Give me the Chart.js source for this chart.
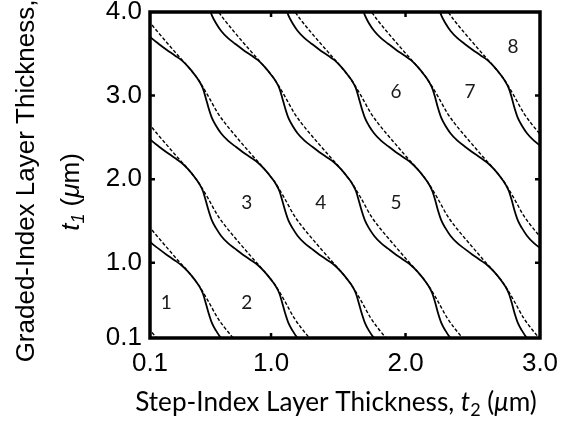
<!DOCTYPE html>
<html>
<head>
<meta charset="utf-8">
<script src="https://cdn.jsdelivr.net/npm/chart.js@4.4.1/dist/chart.umd.min.js"></script>
<style>
  body { margin: 0; background: #fff; }
  #myChart { display: block; }
</style>
</head>
<body>
<canvas id="myChart" width="570" height="423"></canvas>
<script>
const xTicks = [0.1, 1.0, 2.0, 3.0];
const yTicks = [0.1, 1.0, 2.0, 3.0, 4.0];

const regionNames = ['1', '2', '3', '4', '5', '6', '7', '8'];
const regionT2 = [0.22, 0.82, 0.82, 1.37, 1.93, 1.93, 2.48, 2.80];
const regionT1 = [0.52, 0.52, 1.72, 1.72, 1.72, 3.04, 3.04, 3.58];

// points are [t2, t1]; solid = full calculation, dashed = approximation
const solid0 = [[-0.008,0.278],[0.022,0.188],[0.059,0.098],[0.111,0.008],[0.163,-0.058]];
const dashed0 = [[-0.038,0.547],[0.035,0.337],[0.089,0.218],[0.147,0.104],[0.223,-0.040]];

const solid1 = [[-0.008,1.504],[0.022,1.414],[0.059,1.324],[0.111,1.234],[0.163,1.169],[0.223,1.097],[0.282,1.031],[0.334,0.971],
  [0.383,0.894],[0.435,0.792],[0.468,0.714],[0.494,0.630],[0.516,0.511],[0.535,0.403],[0.561,0.278],[0.591,0.188],[0.628,0.098],[0.680,0.008]];
const dashed1 = [[-0.038,1.773],[0.035,1.563],[0.089,1.444],[0.147,1.330],[0.223,1.187],[0.297,1.049],
  [0.383,0.894],[0.457,0.744],[0.531,0.547],[0.604,0.337],[0.658,0.218],[0.716,0.104],[0.791,-0.040]];

const solid2 = [[-0.008,2.730],[0.022,2.640],[0.059,2.550],[0.111,2.461],[0.163,2.395],[0.223,2.323],[0.282,2.257],[0.334,2.197],
  [0.383,2.120],[0.435,2.018],[0.468,1.940],[0.494,1.856],[0.516,1.737],[0.535,1.629],[0.561,1.504],[0.591,1.414],[0.628,1.324],
  [0.680,1.234],[0.732,1.169],[0.791,1.097],[0.851,1.031],[0.903,0.971],
  [0.951,0.894],[1.003,0.792],[1.037,0.714],[1.063,0.630],[1.085,0.511],[1.104,0.403],[1.130,0.278],[1.160,0.188],[1.197,0.098],[1.249,0.008]];
const dashed2 = [[-0.038,2.999],[0.035,2.790],[0.089,2.670],[0.147,2.556],[0.223,2.413],[0.297,2.275],
  [0.383,2.120],[0.457,1.970],[0.531,1.773],[0.604,1.563],[0.658,1.444],[0.716,1.330],[0.791,1.187],[0.866,1.049],
  [0.951,0.894],[1.026,0.744],[1.100,0.547],[1.173,0.337],[1.226,0.218],[1.284,0.104],[1.360,-0.040]];

const solid3 = [[-0.008,3.956],[0.022,3.866],[0.059,3.776],[0.111,3.687],[0.163,3.621],[0.223,3.549],[0.282,3.483],[0.334,3.424],
  [0.383,3.346],[0.435,3.244],[0.468,3.166],[0.494,3.083],[0.516,2.963],[0.535,2.855],[0.561,2.730],[0.591,2.640],[0.628,2.550],
  [0.680,2.461],[0.732,2.395],[0.791,2.323],[0.851,2.257],[0.903,2.197],
  [0.951,2.120],[1.003,2.018],[1.037,1.940],[1.063,1.856],[1.085,1.737],[1.104,1.629],[1.130,1.504],[1.160,1.414],[1.197,1.324],
  [1.249,1.234],[1.301,1.169],[1.360,1.097],[1.420,1.031],[1.472,0.971],
  [1.520,0.894],[1.572,0.792],[1.606,0.714],[1.632,0.630],[1.654,0.511],[1.673,0.403],[1.699,0.278],[1.728,0.188],[1.766,0.098],[1.818,0.008]];
const dashed3 = [[-0.038,4.225],[0.035,4.016],[0.089,3.896],[0.147,3.782],[0.223,3.639],[0.297,3.501],
  [0.383,3.346],[0.457,3.196],[0.531,2.999],[0.604,2.790],[0.658,2.670],[0.716,2.556],[0.791,2.413],[0.866,2.275],
  [0.951,2.120],[1.026,1.970],[1.100,1.773],[1.173,1.563],[1.226,1.444],[1.284,1.330],[1.360,1.187],[1.435,1.049],
  [1.520,0.894],[1.594,0.744],[1.669,0.547],[1.742,0.337],[1.795,0.218],[1.853,0.104],[1.929,-0.040]];

const solid4 = [[0.516,4.189],[0.535,4.081],[0.561,3.956],[0.591,3.866],[0.628,3.776],[0.680,3.687],[0.732,3.621],[0.791,3.549],[0.851,3.483],[0.903,3.424],
  [0.951,3.346],[1.003,3.244],[1.037,3.166],[1.063,3.083],[1.085,2.963],[1.104,2.855],[1.130,2.730],[1.160,2.640],[1.197,2.550],
  [1.249,2.461],[1.301,2.395],[1.360,2.323],[1.420,2.257],[1.472,2.197],
  [1.520,2.120],[1.572,2.018],[1.606,1.940],[1.632,1.856],[1.654,1.737],[1.673,1.629],[1.699,1.504],[1.728,1.414],[1.766,1.324],
  [1.818,1.234],[1.870,1.169],[1.929,1.097],[1.989,1.031],[2.041,0.971],
  [2.089,0.894],[2.141,0.792],[2.174,0.714],[2.200,0.630],[2.223,0.511],[2.241,0.403],[2.267,0.278],[2.297,0.188],[2.334,0.098],[2.386,0.008]];
const dashed4 = [[0.531,4.225],[0.604,4.016],[0.658,3.896],[0.716,3.782],[0.791,3.639],[0.866,3.501],
  [0.951,3.346],[1.026,3.196],[1.100,2.999],[1.173,2.790],[1.226,2.670],[1.284,2.556],[1.360,2.413],[1.435,2.275],
  [1.520,2.120],[1.594,1.970],[1.669,1.773],[1.742,1.563],[1.795,1.444],[1.853,1.330],[1.929,1.187],[2.003,1.049],
  [2.089,0.894],[2.163,0.744],[2.238,0.547],[2.311,0.337],[2.364,0.218],[2.422,0.104],[2.498,-0.040]];

const solid5 = [[1.085,4.189],[1.104,4.081],[1.130,3.956],[1.160,3.866],[1.197,3.776],[1.249,3.687],[1.301,3.621],[1.360,3.549],[1.420,3.483],[1.472,3.424],
  [1.520,3.346],[1.572,3.244],[1.606,3.166],[1.632,3.083],[1.654,2.963],[1.673,2.855],[1.699,2.730],[1.728,2.640],[1.766,2.550],
  [1.818,2.461],[1.870,2.395],[1.929,2.323],[1.989,2.257],[2.041,2.197],
  [2.089,2.120],[2.141,2.018],[2.174,1.940],[2.200,1.856],[2.223,1.737],[2.241,1.629],[2.267,1.504],[2.297,1.414],[2.334,1.324],
  [2.386,1.234],[2.438,1.169],[2.498,1.097],[2.557,1.031],[2.609,0.971],
  [2.658,0.894],[2.710,0.792],[2.743,0.714],[2.769,0.630],[2.792,0.511],[2.810,0.403],[2.836,0.278],[2.866,0.188],[2.903,0.098],[2.955,0.008]];
const dashed5 = [[1.100,4.225],[1.173,4.016],[1.226,3.896],[1.284,3.782],[1.360,3.639],[1.435,3.501],
  [1.520,3.346],[1.594,3.196],[1.669,2.999],[1.742,2.790],[1.795,2.670],[1.853,2.556],[1.929,2.413],[2.003,2.275],
  [2.089,2.120],[2.163,1.970],[2.238,1.773],[2.311,1.563],[2.364,1.444],[2.422,1.330],[2.498,1.187],[2.572,1.049],
  [2.658,0.894],[2.732,0.744],[2.806,0.547],[2.879,0.337],[2.933,0.218],[2.991,0.104],[3.067,-0.040]];

const solid6 = [[1.654,4.189],[1.673,4.081],[1.699,3.956],[1.728,3.866],[1.766,3.776],[1.818,3.687],[1.870,3.621],[1.929,3.549],[1.989,3.483],[2.041,3.424],
  [2.089,3.346],[2.141,3.244],[2.174,3.166],[2.200,3.083],[2.223,2.963],[2.241,2.855],[2.267,2.730],[2.297,2.640],[2.334,2.550],
  [2.386,2.461],[2.438,2.395],[2.498,2.323],[2.557,2.257],[2.609,2.197],
  [2.658,2.120],[2.710,2.018],[2.743,1.940],[2.769,1.856],[2.792,1.737],[2.810,1.629],[2.836,1.504],[2.866,1.414],[2.903,1.324],
  [2.955,1.234],[3.007,1.169],[3.067,1.097]];
const dashed6 = [[1.669,4.225],[1.742,4.016],[1.795,3.896],[1.853,3.782],[1.929,3.639],[2.003,3.501],
  [2.089,3.346],[2.163,3.196],[2.238,2.999],[2.311,2.790],[2.364,2.670],[2.422,2.556],[2.498,2.413],[2.572,2.275],
  [2.658,2.120],[2.732,1.970],[2.806,1.773],[2.879,1.563],[2.933,1.444],[2.991,1.330],[3.067,1.187]];

const solid7 = [[2.223,4.189],[2.241,4.081],[2.267,3.956],[2.297,3.866],[2.334,3.776],[2.386,3.687],[2.438,3.621],[2.498,3.549],[2.557,3.483],[2.609,3.424],
  [2.658,3.346],[2.710,3.244],[2.743,3.166],[2.769,3.083],[2.792,2.963],[2.810,2.855],[2.836,2.730],[2.866,2.640],[2.903,2.550],
  [2.955,2.461],[3.007,2.395],[3.067,2.323]];
const dashed7 = [[2.238,4.225],[2.311,4.016],[2.364,3.896],[2.422,3.782],[2.498,3.639],[2.572,3.501],
  [2.658,3.346],[2.732,3.196],[2.806,2.999],[2.879,2.790],[2.933,2.670],[2.991,2.556],[3.067,2.413]];

const solidCurves = [solid0, solid1, solid2, solid3, solid4, solid5, solid6, solid7];
const dashedCurves = [dashed0, dashed1, dashed2, dashed3, dashed4, dashed5, dashed6, dashed7];

function toXY(points) {
  return points.map(p => ({ x: p[0], y: p[1] }));
}

const datasets = [];
solidCurves.forEach(c => {
  datasets.push({
    data: toXY(c),
    showLine: true,
    borderColor: '#000',
    borderWidth: 1.8,
    pointRadius: 0,
    cubicInterpolationMode: 'monotone',
    clip: 0
  });
});
dashedCurves.forEach(c => {
  datasets.push({
    data: toXY(c),
    showLine: true,
    borderColor: '#000',
    borderWidth: 1.4,
    borderDash: [3.5, 2],
    pointRadius: 0,
    cubicInterpolationMode: 'monotone',
    clip: 0
  });
});

// draw a line of text made of pieces with different fonts, centred on x
function drawParts(ctx, parts, x, y) {
  let w = 0;
  parts.forEach(p => { ctx.font = p.font; w += ctx.measureText(p.text).width; });
  let cx = x - w / 2;
  parts.forEach(p => {
    ctx.font = p.font;
    ctx.fillText(p.text, cx, y + (p.dy || 0));
    cx += ctx.measureText(p.text).width;
  });
  return w;
}

const framePlugin = {
  id: 'frame',
  afterDatasetsDraw(chart) {
    const ctx = chart.ctx;
    const a = chart.chartArea;
    const xs = chart.scales.x;
    const ys = chart.scales.y;
    ctx.save();
    ctx.strokeStyle = '#000';
    ctx.lineWidth = 3.5;
    ctx.strokeRect(a.left, a.top, a.right - a.left, a.bottom - a.top);

    // small inward tick marks
    ctx.lineWidth = 2.5;
    ctx.beginPath();
    xTicks.slice(1, -1).forEach(v => {
      const px = xs.getPixelForValue(v);
      ctx.moveTo(px, a.bottom); ctx.lineTo(px, a.bottom - 5);
      ctx.moveTo(px, a.top); ctx.lineTo(px, a.top + 5);
    });
    yTicks.slice(1, -1).forEach(v => {
      const py = ys.getPixelForValue(v);
      ctx.moveTo(a.left, py); ctx.lineTo(a.left + 5, py);
      ctx.moveTo(a.right, py); ctx.lineTo(a.right - 5, py);
    });
    ctx.stroke();

    // region numbers
    ctx.fillStyle = '#1a1a1a';
    ctx.font = '19px Lato';
    ctx.textAlign = 'center';
    ctx.textBaseline = 'middle';
    regionNames.forEach((name, i) => {
      ctx.fillText(name, xs.getPixelForValue(regionT2[i]), ys.getPixelForValue(regionT1[i]));
    });
    ctx.restore();
  },
  afterDraw(chart) {
    const ctx = chart.ctx;
    ctx.save();
    ctx.fillStyle = '#000';
    ctx.textAlign = 'left';
    ctx.textBaseline = 'alphabetic';

    // y axis title, two rotated lines
    const yFont = '"Liberation Sans", Arial, sans-serif';
    ctx.save();
    ctx.translate(34, 181);
    ctx.rotate(-Math.PI / 2);
    drawParts(ctx, [{ text: 'Graded-Index Layer Thickness,', font: '26px ' + yFont }], 0, 0);
    ctx.restore();
    ctx.save();
    ctx.translate(79, 192);
    ctx.rotate(-Math.PI / 2);
    drawParts(ctx, [
      { text: 't', font: 'italic 26px ' + yFont },
      { text: '1', font: 'italic 18px ' + yFont, dy: 5 },
      { text: ' (', font: '26px ' + yFont },
      { text: 'μ', font: 'italic 26px ' + yFont },
      { text: 'm)', font: '26px ' + yFont }
    ], 0, 0);
    ctx.restore();

    // x axis title, scaled to the width it takes in the figure
    const xParts = size => [
      { text: 'Step-Index Layer Thickness, ', font: size + 'px Lato' },
      { text: 't', font: 'italic ' + size + 'px Lato' },
      { text: '2', font: Math.round(size * 0.68) + 'px Lato', dy: Math.round(size * 0.2) },
      { text: ' (', font: size + 'px Lato' },
      { text: 'μ', font: 'italic ' + size + 'px Lato' },
      { text: 'm)', font: size + 'px Lato' }
    ];
    let w = 0;
    xParts(26).forEach(p => { ctx.font = p.font; w += ctx.measureText(p.text).width; });
    const size = Math.min(28, 26 * 402 / w);
    drawParts(ctx, xParts(size), 336, 411);
    ctx.restore();
  }
};

const tickFont = { family: '"Liberation Sans", Arial, sans-serif', size: 26 };

const ctx = document.getElementById('myChart').getContext('2d');
const chart = new Chart(ctx, {
  type: 'scatter',
  data: { datasets: datasets },
  options: {
    responsive: false,
    animation: false,
    devicePixelRatio: 1,
    layout: { padding: { top: 12, right: 30, left: 0, bottom: 0 } },
    plugins: { legend: { display: false }, tooltip: { enabled: false } },
    scales: {
      x: {
        type: 'linear',
        min: 0.1,
        max: 3.0,
        afterBuildTicks: s => { s.ticks = xTicks.map(v => ({ value: v })); },
        afterFit: s => { s.height = 85; s.paddingLeft = 0; s.paddingRight = 0; },
        grid: { display: false, drawTicks: false },
        border: { display: false },
        ticks: { font: tickFont, color: '#000', padding: 10, autoSkip: false, maxRotation: 0,
          callback: v => Number(v).toFixed(1) }
      },
      y: {
        type: 'linear',
        min: 0.1,
        max: 4.0,
        afterBuildTicks: s => { s.ticks = yTicks.map(v => ({ value: v })); },
        afterFit: s => { s.width = 150; s.paddingTop = 0; s.paddingBottom = 0; },
        grid: { display: false, drawTicks: false },
        border: { display: false },
        ticks: { font: tickFont, color: '#000', padding: 8, autoSkip: false,
          callback: v => Number(v).toFixed(1) }
      }
    }
  },
  plugins: [framePlugin]
});
</script>
</body>
</html>
